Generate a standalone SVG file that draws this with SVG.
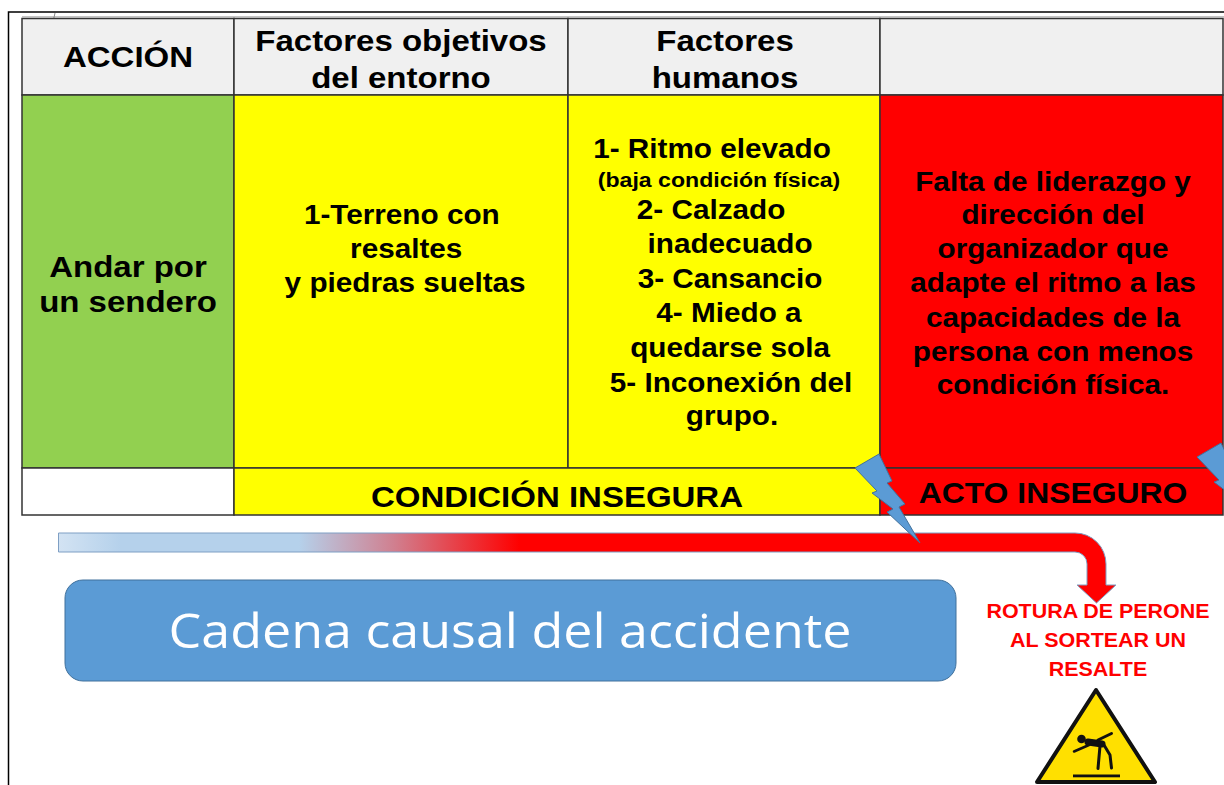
<svg xmlns="http://www.w3.org/2000/svg" width="1224" height="785" viewBox="0 0 1224 785">
<style>
.t{font-family:"Liberation Sans",Arial,sans-serif;font-weight:bold;fill:#000;text-anchor:middle}
.cell{stroke:#333;stroke-width:1.5}
.bolt{fill:#5b9bd5;stroke:#41719c;stroke-width:1}
.red{font-family:"Liberation Sans",Arial,sans-serif;font-weight:bold;fill:#ff0000;text-anchor:middle;font-size:19.5px}
.fig{stroke:#111;fill:none;stroke-linecap:round;stroke-linejoin:round}
</style>
<defs>
<linearGradient id="grad" gradientUnits="userSpaceOnUse" x1="58" y1="0" x2="1106" y2="0">
<stop offset="0" stop-color="#d3e3f3"/>
<stop offset="0.06" stop-color="#b5d1eb"/>
<stop offset="0.23" stop-color="#b5d1eb"/>
<stop offset="0.32" stop-color="#d08090"/>
<stop offset="0.44" stop-color="#ff0000"/>
<stop offset="1" stop-color="#ff0000"/>
</linearGradient>
<polygon id="boltShape" points="855,468 879,454 892,481 887,483 905,504 899,507 920,543 887,512 893,509 872,493 877,491"/>
</defs>
<rect width="1224" height="785" fill="#fff"/>
<!-- outer frame -->
<path d="M8.5,785 V12 H1224" fill="none" stroke="#000" stroke-width="1.5"/>
<line x1="22" y1="16.8" x2="1224" y2="16.8" stroke="#aaa" stroke-width="1"/>
<line x1="55" y1="13" x2="50.5" y2="33" stroke="#888" stroke-width="1"/>

<!-- header row -->
<g id="h-accion">
<rect class="cell" x="22" y="18.5" width="212" height="76.5" fill="#f0f0f0"/>
<text class="t" font-size="30" transform="translate(128,0) scale(1.1,1)"><tspan x="0" y="67">ACCIÓN</tspan></text>
</g>
<g id="h-factores-objetivos">
<rect class="cell" x="234" y="18.5" width="334" height="76.5" fill="#f0f0f0"/>
<text class="t" font-size="30" transform="translate(401,0) scale(1.1,1)"><tspan x="0" y="51">Factores objetivos</tspan><tspan x="0" y="88">del entorno</tspan></text>
</g>
<g id="h-factores-humanos">
<rect class="cell" x="568" y="18.5" width="312" height="76.5" fill="#f0f0f0"/>
<text class="t" font-size="30" transform="translate(725,0) scale(1.1,1)"><tspan x="0" y="51">Factores</tspan><tspan x="0" y="88">humanos</tspan></text>
</g>
<g id="h-empty">
<rect class="cell" x="880" y="18.5" width="343" height="76.5" fill="#f0f0f0"/>
</g>

<!-- body row -->
<g id="accion">
<rect class="cell" x="22" y="95" width="212" height="373" fill="#92d050"/>
<text class="t" font-size="30" transform="translate(128,0) scale(1.1,1)"><tspan x="0" y="277">Andar por</tspan><tspan x="0" y="312">un sendero</tspan></text>
</g>
<g id="factores-objetivos">
<rect class="cell" x="234" y="95" width="334" height="373" fill="#ffff00"/>
<text class="t" font-size="27" transform="translate(404,0) scale(1.1,1)"><tspan x="-2" y="224">1-Terreno con</tspan><tspan x="2" y="258">resaltes</tspan><tspan x="1" y="292">y piedras sueltas</tspan></text>
</g>
<g id="factores-humanos">
<rect class="cell" x="568" y="95" width="312" height="373" fill="#ffff00"/>
<text class="t" font-size="27" transform="translate(724,0) scale(1.1,1)"><tspan x="-10.9" y="158">1- Ritmo elevado</tspan><tspan x="-4.5" y="187" font-size="21">(baja condición física)</tspan><tspan x="-11.8" y="219">2- Calzado</tspan><tspan x="5.5" y="253">inadecuado</tspan><tspan x="5.5" y="288">3- Cansancio</tspan><tspan x="4.5" y="322">4- Miedo a</tspan><tspan x="5.5" y="357">quedarse sola</tspan><tspan x="6.4" y="392">5- Inconexión del</tspan><tspan x="7.3" y="425">grupo.</tspan></text>
</g>
<g id="falta-liderazgo">
<rect class="cell" x="880" y="95" width="343" height="373" fill="#ff0000"/>
<text class="t" font-size="27" transform="translate(1053,0) scale(1.1,1)"><tspan x="0" y="191">Falta de liderazgo y</tspan><tspan x="0" y="224">dirección del</tspan><tspan x="0" y="258">organizador que</tspan><tspan x="0" y="292">adapte el ritmo a las</tspan><tspan x="0" y="327">capacidades de la</tspan><tspan x="0" y="361">persona con menos</tspan><tspan x="0" y="394">condición física.</tspan></text>
</g>

<!-- bottom row -->
<g id="b-empty">
<rect class="cell" x="22" y="468" width="212" height="47" fill="#fff"/>
</g>
<g id="condicion-insegura">
<rect class="cell" x="234" y="468" width="646" height="47" fill="#ffff00"/>
<text class="t" font-size="30" transform="translate(557,0) scale(1.1,1)"><tspan x="0" y="507">CONDICIÓN INSEGURA</tspan></text>
</g>
<g id="acto-inseguro">
<rect class="cell" x="880" y="468" width="343" height="47" fill="#ff0000"/>
<text class="t" font-size="29" transform="translate(1053,0) scale(1.1,1)"><tspan x="0" y="503">ACTO INSEGURO</tspan></text>
</g>

<!-- connectors -->
<g id="connectors">
<path d="M58.5,533 H1075 A31,31 0 0 1 1106,564 V585 H1116 L1096.5,603 L1077,585 H1087 V564 A12,12 0 0 0 1075,552 H58.5 Z" fill="url(#grad)" stroke="#7f9fc4" stroke-width="1"/>
<use href="#boltShape" class="bolt"/>
<use href="#boltShape" class="bolt" transform="translate(342,-11)"/>
</g>

<!-- title box -->
<g id="cadena-causal">
<rect x="65" y="580" width="891" height="101" rx="18" ry="18" fill="#5b9bd5" stroke="#41719c" stroke-width="1"/>
<text x="510" y="648" font-family="'Open Sans','Noto Sans',sans-serif" font-size="48" fill="#fff" text-anchor="middle" textLength="683" lengthAdjust="spacingAndGlyphs">Cadena causal del accidente</text>
</g>

<!-- result -->
<g id="rotura-perone">
<text class="red" transform="translate(1098,0) scale(1.1,1)"><tspan x="0" y="618">ROTURA DE PERONE</tspan><tspan x="0" y="647">AL SORTEAR UN</tspan><tspan x="0" y="676">RESALTE</tspan></text>
</g>

<g id="warning-sign">
<polygon points="1096,690 1155,782 1037,782" fill="#ffe000" stroke="#111" stroke-width="4" stroke-linejoin="round"/>
<circle cx="1081.5" cy="739" r="4.3" fill="#111"/>
<path class="fig" d="M1088,742 L1102,744" stroke-width="7"/>
<path class="fig" d="M1098,740 L1111.5,733.5" stroke-width="3"/>
<path class="fig" d="M1089,745 L1074,751.5" stroke-width="2.5"/>
<path class="fig" d="M1100,746 L1098,768.5" stroke-width="3"/>
<path class="fig" d="M1104,745 L1110,755 L1111.5,768" stroke-width="3"/>
<rect x="1073" y="774.5" width="47" height="2.8" fill="#111"/>
</g>
</svg>
